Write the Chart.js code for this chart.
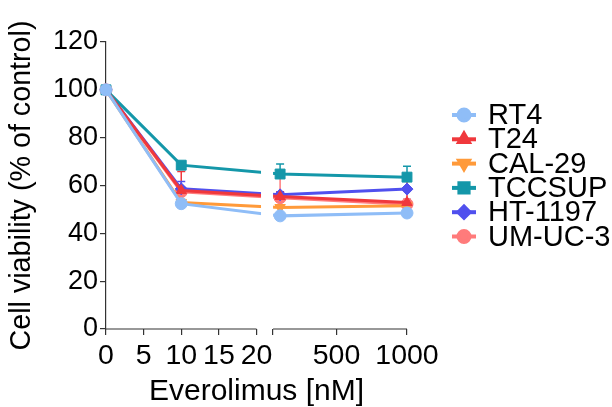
<!DOCTYPE html>
<html>
<head>
<meta charset="utf-8">
<script src="https://cdn.jsdelivr.net/npm/chart.js@4"></script>
<style>
  html, body { margin: 0; padding: 0; background: #fff; }
  #wrap { width: 612px; height: 407px; }
</style>
</head>
<body>
<div id="wrap"><canvas id="chart" width="612" height="407"></canvas></div>
<script>
// Données
const doses = [0, 10, 100, 1000];
const cellLines = ['RT4', 'T24', 'CAL-29', 'TCCSUP', 'HT-1197', 'UM-UC-3'];

const rt4 = [100, 52.4, 47.3, 48.5];
const t24 = [100, 57.9, 55.4, 52.9];
const cal29 = [100, 52.9, 50.8, 51.5];
const tccsup = [100, 68.5, 64.8, 63.5];
const ht1197 = [100, 58.6, 56.1, 58.5];
const umuc3 = [100, 57.4, 54.9, 52.2];

// Erreurs (vers le haut seulement)
const rt4Err = [0, 0.8, 8.0, 5.8];
const t24Err = [0, 8.0, 2.0, 9.0];
const cal29Err = [0, 1.4, 1.0, 1.0];
const tccsupErr = [0, 1.0, 4.2, 4.5];
const ht1197Err = [0, 3.1, 1.0, 1.0];
const umuc3Err = [0, 2.0, 10.0, 2.0];

const yTicks = [0, 20, 40, 60, 80, 100, 120];
const xTickDoses = [0, 5, 10, 15, 20, 50, 500, 1000];
const xTickLabels = ['0', '5', '10', '15', '20', '', '500', '1000'];

// Axe coupé : 0-20 puis 50-1000
function toAxis(d) {
    return d <= 20 ? d : 22.2 + (d - 50) * 17.8 / 950;
}

const series = [
    { label: cellLines[0], values: rt4, err: rt4Err, color: '#8fbdf7', style: 'circle', rot: 0, r: 6 },
    { label: cellLines[1], values: t24, err: t24Err, color: '#f0383c', style: 'triangle', rot: 0, r: 6 },
    { label: cellLines[2], values: cal29, err: cal29Err, color: '#ff9a3a', style: 'triangle', rot: 180, r: 6 },
    { label: cellLines[3], values: tccsup, err: tccsupErr, color: '#1497a9', style: 'rect', rot: 0, r: 7 },
    { label: cellLines[4], values: ht1197, err: ht1197Err, color: '#5050ee', style: 'rectRot', rot: 0, r: 6 },
    { label: cellLines[5], values: umuc3, err: umuc3Err, color: '#ff7b7b', style: 'circle', rot: 0, r: 6 }
];

const FONT = 'Liberation Sans, Arial, sans-serif';

// Barres d'erreur
const errorBars = {
    id: 'errorBars',
    beforeDatasetsDraw(chart) {
        const ctx = chart.ctx;
        const y = chart.scales.y;
        ctx.save();
        chart.data.datasets.forEach((ds, i) => {
            const meta = chart.getDatasetMeta(i);
            ds.errors.forEach((e, j) => {
                if (!e) return;
                const px = meta.data[j].x;
                const top = y.getPixelForValue(ds.data[j].y + e);
                const mid = y.getPixelForValue(ds.data[j].y);
                ctx.strokeStyle = ds.borderColor;
                ctx.lineWidth = 1.5;
                ctx.beginPath();
                ctx.moveTo(px, top); ctx.lineTo(px, mid);
                ctx.moveTo(px - 4, top); ctx.lineTo(px + 4, top);
                ctx.stroke();
            });
        });
        ctx.restore();
    }
};

// Coupure de l'axe X
const axisBreak = {
    id: 'axisBreak',
    afterDatasetsDraw(chart) {
        const ctx = chart.ctx;
        const x = chart.scales.x;
        const area = chart.chartArea;
        ctx.save();
        ctx.fillStyle = '#fff';
        const g0 = x.getPixelForValue(20.6);
        const g1 = x.getPixelForValue(22.2);
        ctx.fillRect(g0, area.top - 10, g1 - g0, area.bottom - area.top + 8);
        ctx.strokeStyle = '#333';
        ctx.lineWidth = 1.2;
        ctx.beginPath();
        ctx.moveTo(x.getPixelForValue(0), area.bottom);
        ctx.lineTo(x.getPixelForValue(20), area.bottom);
        ctx.moveTo(x.getPixelForValue(22.2), area.bottom);
        ctx.lineTo(x.getPixelForValue(40), area.bottom);
        ctx.stroke();
        ctx.restore();
    }
};

// Légende style GraphPad
const sideLegend = {
    id: 'sideLegend',
    afterDraw(chart) {
        const ctx = chart.ctx;
        ctx.save();
        chart.data.datasets.forEach((ds, i) => {
            const cy = 115 + i * 24.3;
            ctx.strokeStyle = ds.borderColor;
            ctx.lineWidth = 4;
            ctx.beginPath();
            ctx.moveTo(452, cy); ctx.lineTo(476, cy);
            ctx.stroke();
            ctx.fillStyle = ds.borderColor;
            Chart.helpers.drawPoint(ctx, {
                pointStyle: ds.pointStyle, radius: ds.pointRadius - 0.5,
                rotation: ds.pointRotation, borderWidth: 1
            }, 464, cy);
            ctx.fillStyle = '#000';
            ctx.font = '29px ' + FONT;
            ctx.textBaseline = 'middle';
            ctx.fillText(ds.label, 488, cy + 1);
        });
        ctx.restore();
    }
};

const ctx = document.getElementById('chart').getContext('2d');
const chart = new Chart(ctx, {
    type: 'line',
    data: {
        datasets: series.map(s => ({
            label: s.label,
            data: doses.map((d, j) => ({ x: toAxis(d), y: s.values[j] })),
            errors: s.err,
            borderColor: s.color,
            backgroundColor: s.color,
            borderWidth: 3,
            pointStyle: s.style,
            pointRotation: s.rot,
            pointRadius: s.r,
            pointBorderWidth: 1,
            tension: 0,
            clip: false
        }))
    },
    options: {
        responsive: false,
        animation: false,
        devicePixelRatio: 1,
        layout: { padding: { left: 0, top: 42, right: 205, bottom: 0 } },
        plugins: {
            legend: { display: false },
            tooltip: { enabled: false }
        },
        scales: {
            x: {
                type: 'linear',
                min: 0,
                max: 40,
                afterBuildTicks: scale => {
                    scale.ticks = xTickDoses.map(d => ({ value: toAxis(d) }));
                },
                afterFit: scale => { scale.height = 78; },
                ticks: {
                    autoSkip: false,
                    maxRotation: 0,
                    padding: 4,
                    color: '#000',
                    font: { family: FONT, size: 28.5 },
                    callback: (v, i) => xTickLabels[i]
                },
                grid: { drawOnChartArea: false, tickLength: 6, color: '#333', lineWidth: 1.2 },
                border: { display: false },
                title: {
                    display: true,
                    text: 'Everolimus [nM]',
                    color: '#000',
                    font: { family: FONT, size: 30, lineHeight: 1.0 },
                    padding: { top: 0, bottom: 0 }
                }
            },
            y: {
                min: 0,
                max: 120,
                afterBuildTicks: scale => {
                    scale.ticks = yTicks.map(v => ({ value: v }));
                },
                afterFit: scale => { scale.width = 106; },
                ticks: {
                    padding: 2,
                    color: '#000',
                    font: { family: FONT, size: 27 }
                },
                grid: { drawOnChartArea: false, tickLength: 6, color: '#333', lineWidth: 1.2 },
                border: { display: true, color: '#333', width: 1.2 },
                title: {
                    display: true,
                    text: 'Cell viability (% of control)',
                    color: '#000',
                    font: { family: FONT, size: 28.7 },
                    padding: { top: 5, bottom: 0 }
                }
            }
        }
    },
    plugins: [errorBars, axisBreak, sideLegend]
});
</script>
</body>
</html>
